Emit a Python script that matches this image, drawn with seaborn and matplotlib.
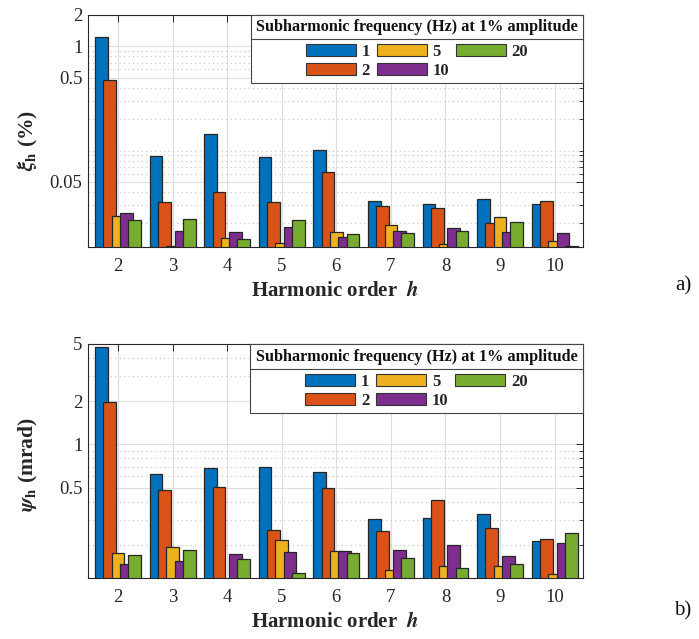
import matplotlib
matplotlib.use("Agg")
import matplotlib.pyplot as plt
import numpy as np
import pandas as pd
import seaborn as sns
from matplotlib.patches import Rectangle, Patch
from matplotlib.lines import Line2D
from matplotlib.ticker import FixedLocator, FixedFormatter, LogLocator, NullFormatter

# ---- data -------------------------------------------------------------
harmonics = [2, 3, 4, 5, 6, 7, 8, 9, 10]
sub_freqs = ["1", "2", "5", "10", "20"]

# amplitude deviation xi_h (%)
xi_f1 = [1.23, 0.0885, 0.143, 0.0859, 0.101, 0.0331, 0.0310, 0.0346, 0.0307]
xi_f2 = [0.48, 0.0319, 0.0398, 0.0319, 0.0625, 0.0294, 0.0283, 0.0203, 0.0328]
xi_f5 = [0.0237, 0.0121, 0.0146, 0.01285, 0.0164, 0.0195, 0.01276, 0.0230, 0.0137]
xi_f10 = [0.0253, 0.0169, 0.0166, 0.0186, 0.0148, 0.0168, 0.0179, 0.0164, 0.0161]
xi_f20 = [0.0217, 0.0220, 0.0142, 0.0217, 0.0157, 0.0163, 0.0169, 0.0206, 0.0121]

# phase deviation psi_h (mrad)
psi_f1 = [4.77, 0.627, 0.680, 0.694, 0.641, 0.305, 0.307, 0.329, 0.214]
psi_f2 = [1.96, 0.482, 0.506, 0.253, 0.500, 0.249, 0.410, 0.261, 0.219]
psi_f5 = [0.175, 0.194, 0.115, 0.215, 0.181, 0.133, 0.142, 0.142, 0.126]
psi_f10 = [0.146, 0.154, 0.174, 0.179, 0.181, 0.184, 0.199, 0.167, 0.205]
psi_f20 = [0.169, 0.184, 0.160, 0.127, 0.176, 0.162, 0.139, 0.146, 0.240]

xi_ticks = [0.05, 0.5, 1, 2]
xi_ticklabels = ["0.05", "0.5", "1", "2"]
psi_ticks = [0.5, 1, 2, 5]
psi_ticklabels = ["0.5", "1", "2", "5"]

colors = ["#0072BD", "#D95319", "#EDB120", "#7E2F8E", "#77AC30"]
legend_title = "Subharmonic frequency (Hz) at 1% amplitude"


def long_table(series):
    rows = []
    for f, vals in zip(sub_freqs, series):
        for h, v in zip(harmonics, vals):
            rows.append({"h": str(h), "f": f, "val": v})
    return pd.DataFrame(rows)


df_xi = long_table([xi_f1, xi_f2, xi_f5, xi_f10, xi_f20])
df_psi = long_table([psi_f1, psi_f2, psi_f5, psi_f10, psi_f20])

# ---- style ------------------------------------------------------------
sns.set_theme(style="white")
plt.rcParams["font.family"] = ["Liberation Serif", "DejaVu Serif"]
plt.rcParams["mathtext.fontset"] = "stix"
dark = "#262626"

fig = plt.figure(figsize=(6.99, 6.39), dpi=100)
W, H = 699, 639


def px_axes(left, top, right, bottom):
    return fig.add_axes([left / W, 1 - bottom / H, (right - left) / W, (bottom - top) / H])


ax_top = px_axes(88, 15, 583, 247.3)
ax_bot = px_axes(88, 344, 583, 578.3)

BAR_W = 0.232  # drawn width of each bar (bars overlap within a group)


def draw_panel(ax, df, ylim, ticks, ticklabels, ylabel, ylabel_y,
               box_x0, box_y0, box_sep):
    ax.set_yscale("log")
    sns.barplot(data=df, x="h", y="val", hue="f", hue_order=sub_freqs,
                palette=colors, width=0.76, saturation=1, errorbar=None,
                edgecolor=dark, linewidth=0.9, legend=False, ax=ax)
    for p in ax.patches:
        cx = p.get_x() + p.get_width() / 2
        p.set_x(cx - BAR_W / 2)
        p.set_width(BAR_W)

    ax.set_xlim(-0.55, 8.52)
    ax.set_ylim(*ylim)
    ax.yaxis.set_major_locator(FixedLocator(ticks))
    ax.yaxis.set_major_formatter(FixedFormatter(ticklabels))
    ax.yaxis.set_minor_locator(LogLocator(base=10, subs=np.arange(1, 10)))
    ax.yaxis.set_minor_formatter(NullFormatter())

    ax.set_axisbelow(True)
    ax.grid(True, which="major", color="#dedede", lw=0.8, ls="-")
    ax.grid(True, which="minor", axis="y", color="#c4c4c4", lw=0.8,
            ls=(0, (1, 3)))
    for s in ax.spines.values():
        s.set_color(dark)
        s.set_linewidth(0.8)
    ax.tick_params(which="both", direction="in", top=True, right=True,
                   colors=dark, labelcolor=dark, labelsize=13.5)
    ax.tick_params(which="major", length=5, width=0.7)
    ax.tick_params(which="minor", length=3, width=0.6)
    ax.tick_params(axis="x", pad=8)
    ax.tick_params(axis="y", pad=4)

    ax.set_xlabel(r"Harmonic order  $\boldsymbol{h}$", fontsize=15,
                  fontweight="bold", color=dark)
    ax.xaxis.set_label_coords(0.5, -0.145)
    ax.set_ylabel(ylabel, fontsize=15.5, fontweight="bold", color=dark)
    ax.yaxis.set_label_coords(-0.097, ylabel_y)

    # legend box with title row and separator
    ax.add_patch(Rectangle((box_x0, box_y0), 1 - box_x0, 1 - box_y0,
                           transform=ax.transAxes, facecolor="white",
                           edgecolor="#444444", lw=0.8, zorder=5,
                           clip_on=False))
    ax.add_line(Line2D([box_x0, 1], [box_sep, box_sep],
                       transform=ax.transAxes, color="#444444", lw=0.8,
                       zorder=6))
    cx = (box_x0 + 1) / 2
    ax.text(cx, (1 + box_sep) / 2, legend_title, transform=ax.transAxes,
            ha="center", va="center", fontsize=11.7, fontweight="bold",
            color="#111111", zorder=7)
    handles = [Patch(facecolor=c, edgecolor="#333333", lw=0.8) for c in colors]
    leg = ax.legend(handles, sub_freqs, ncol=3, loc="center",
                    bbox_to_anchor=(cx, (box_y0 + box_sep) / 2),
                    bbox_transform=ax.transAxes, frameon=False,
                    handlelength=3.0, handleheight=0.75, handletextpad=0.35,
                    columnspacing=0.4, labelspacing=0.2, borderpad=0,
                    borderaxespad=0, prop={"weight": "bold", "size": 12})
    leg.set_zorder(8)


draw_panel(ax_top, df_xi, (0.0118, 2), xi_ticks, xi_ticklabels,
           r"$\boldsymbol{\xi}_{\mathbf{h}}$ (%)", 0.458,
           0.329, 0.706, 0.895)
draw_panel(ax_bot, df_psi, (0.117, 5), psi_ticks, psi_ticklabels,
           r"$\boldsymbol{\psi}_{\mathbf{h}}$ (mrad)", 0.484,
           0.327, 0.704, 0.892)

fig.text(683 / W, 1 - 286 / H, "a)", ha="center", va="center",
         fontsize=15, color="#111111")
fig.text(683 / W, 1 - 611 / H, "b)", ha="center", va="center",
         fontsize=15, color="#111111")

fig.savefig("out.png", dpi=100, facecolor="white")
